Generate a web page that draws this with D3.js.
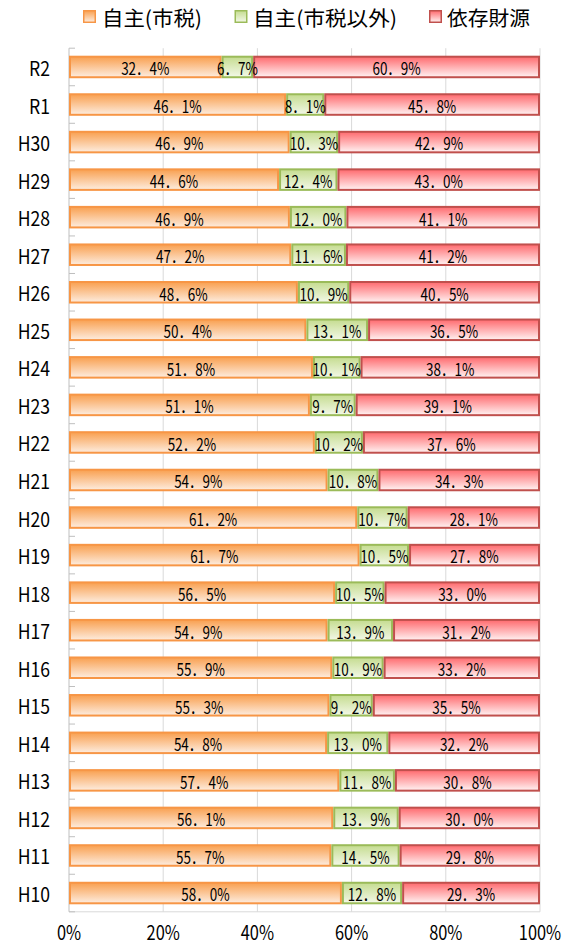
<!DOCTYPE html>
<html><head><meta charset="utf-8">
<script src="https://cdn.jsdelivr.net/npm/d3@7"></script>
<style>body{margin:0;background:#fff}svg{display:block}</style>
</head><body>
<script>
const categories = ["R2","R1","H30","H29","H28","H27","H26","H25","H24","H23","H22","H21","H20","H19","H18","H17","H16","H15","H14","H13","H12","H11","H10"];
const seriesNames = ["自主(市税)","自主(市税以外)","依存財源"];
const shiZei = [32.4,46.1,46.9,44.6,46.9,47.2,48.6,50.4,51.8,51.1,52.2,54.9,61.2,61.7,56.5,54.9,55.9,55.3,54.8,57.4,56.1,55.7,58.0];
const shiZeiIgai = [6.7,8.1,10.3,12.4,12.0,11.6,10.9,13.1,10.1,9.7,10.2,10.8,10.7,10.5,10.5,13.9,10.9,9.2,13.0,11.8,13.9,14.5,12.8];
const izon = [60.9,45.8,42.9,43.0,41.1,41.2,40.5,36.5,38.1,39.1,37.6,34.3,28.1,27.8,33.0,31.2,33.2,35.5,32.2,30.8,30.0,29.8,29.3];
const xTicks = [0,20,40,60,80,100];

const W=576,H=944;
const plot={left:69,right:540,top:48.2,bottom:911.8};
const svg=d3.select("body").append("svg").attr("width",W).attr("height",H);
const defs=svg.append("defs");
const cols=[
 {stroke:"#F79646",top:"#F9A050",bot:"#FDEDE0"},
 {stroke:"#9BBB59",top:"#C5DC90",bot:"#F3F8E8"},
 {stroke:"#C0504D",top:"#FF6A6E",bot:"#FFF3F3"}
];
cols.forEach((c,i)=>{
  const g=defs.append("linearGradient").attr("id","g"+i).attr("x1",0).attr("y1",0).attr("x2",0).attr("y2",1);
  g.append("stop").attr("offset","0%").attr("stop-color",c.top);
  g.append("stop").attr("offset","100%").attr("stop-color",c.bot);
});
const x=d3.scaleLinear().domain([0,100]).range([plot.left,plot.right]);
const y=d3.scaleBand().domain(categories).range([plot.top,plot.bottom]).paddingInner(0.4).paddingOuter(0.2);
const font="'Noto Sans CJK JP', sans-serif";
const squeeze=(sel,s)=>sel.attr("transform",function(){const xx=+d3.select(this).attr("x");return `translate(${xx},0) scale(${s},1) translate(${-xx},0)`;});

// gridlines
svg.append("g").selectAll("line").data(xTicks.slice(1)).join("line")
 .attr("x1",d=>x(d)).attr("x2",d=>x(d)).attr("y1",plot.top).attr("y2",plot.bottom)
 .attr("stroke","#D9D9D9").attr("stroke-width",1);
svg.append("line").attr("x1",plot.left).attr("x2",plot.right).attr("y1",plot.bottom).attr("y2",plot.bottom).attr("stroke","#D9D9D9");
svg.append("line").attr("x1",plot.left).attr("x2",plot.left).attr("y1",plot.top).attr("y2",plot.bottom).attr("stroke","#BFBFBF");
const step=y.step();
const bounds=d3.range(categories.length+1).map(i=>y(categories[0])+y.bandwidth()/2-step/2+i*step);
svg.append("g").selectAll("line").data(bounds).join("line")
 .attr("x1",plot.left).attr("x2",plot.left+6).attr("y1",d=>d).attr("y2",d=>d).attr("stroke","#BFBFBF");

// category labels
const yl=svg.append("g").selectAll("text").data(categories).join("text")
 .attr("x",50).attr("y",d=>y(d)+y.bandwidth()/2)
 .attr("text-anchor","end").attr("dominant-baseline","central")
 .attr("font-family",font).attr("font-size",20).attr("fill","#000").text(d=>d);
squeeze(yl,0.88);

// x labels
const xl=svg.append("g").selectAll("text").data(xTicks).join("text")
 .attr("x",d=>x(d)).attr("y",940)
 .attr("text-anchor","middle")
 .attr("font-family",font).attr("font-size",20).attr("fill","#000").text(d=>d+"%");
squeeze(xl,0.82);

// bars
const rows=categories.map((c,i)=>{
  const vals=[shiZei[i],shiZeiIgai[i],izon[i]];
  const tot=d3.sum(vals);
  let cum=0;
  return vals.map((v,k)=>{const s=cum/tot*100;cum+=v;return {cat:c,k,v,x0:s,x1:cum/tot*100};});
});
const bh=y.bandwidth();
const bars=svg.append("g");
rows.forEach(r=>{
  r.forEach(d=>{
    bars.append("rect").attr("x",x(d.x0)+1).attr("y",y(d.cat)+1)
     .attr("width",x(d.x1)-x(d.x0)-2).attr("height",bh-2)
     .attr("fill",`url(#g${d.k})`).attr("stroke",cols[d.k].stroke).attr("stroke-width",2);
  });
});
rows.forEach(r=>{
  r.forEach(d=>{
    const cx=(x(d.x0)+x(d.x1))/2;
    const t=bars.append("text").attr("x",cx).attr("y",y(d.cat)+bh/2+0.5)
     .attr("text-anchor","middle").attr("dominant-baseline","central")
     .attr("font-family",font).attr("font-size",17.5).attr("fill","#000")
     .text(d.v.toFixed(1).replace(".","．")+"%");
    squeeze(t,0.77);
  });
});

// legend
const leg=svg.append("g");
const lx=[83,234.5,429];
const tx=[102,253,447];
const tl=[100,144,83];
seriesNames.forEach((n,i)=>{
  leg.append("rect").attr("x",lx[i]+0.75).attr("y",10.75).attr("width",11.5).attr("height",11.5)
   .attr("fill",`url(#g${i})`).attr("stroke",cols[i].stroke).attr("stroke-width",1.5);
  leg.append("text").attr("x",tx[i]).attr("y",17).attr("dominant-baseline","central")
   .attr("font-family",font).attr("font-size",20.5).attr("fill","#000")
   .attr("textLength",tl[i]).attr("lengthAdjust","spacingAndGlyphs").text(n);
});
</script>
</body></html>
